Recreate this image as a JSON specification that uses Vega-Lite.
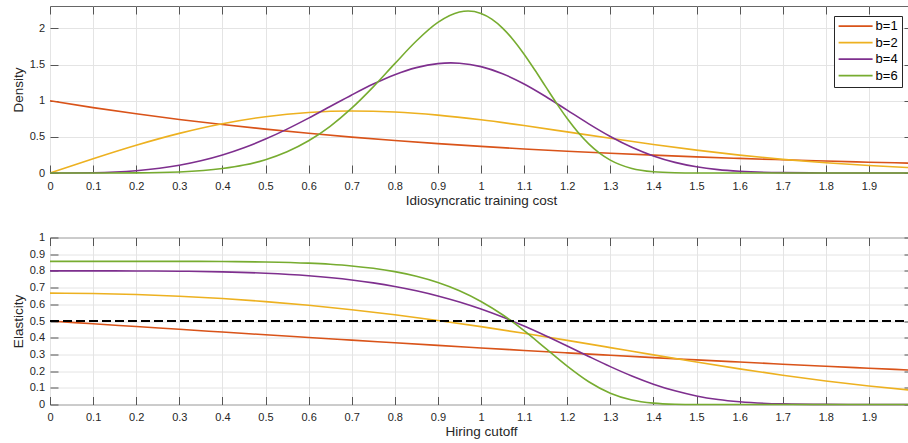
{
  "$schema": "https://vega.github.io/schema/vega-lite/v6.json",
  "padding": {"left": 10, "top": 5, "right": 0, "bottom": 0},
  "bounds": "flush",
  "spacing": 64.5,
  "config": {
    "font": "Liberation Sans",
    "view": {"stroke": "#666666", "strokeWidth": 1},
    "axis": {
      "domain": false,
      "tickSize": -8,
      "tickColor": "#555555",
      "tickWidth": 1,
      "gridColor": "#e4e4e4",
      "gridWidth": 1,
      "labelFont": "Liberation Sans",
      "labelFontSize": 11,
      "labelColor": "#262626",
      "labelPadding": 15,
      "titleFont": "Liberation Sans",
      "titleFontSize": 13.5,
      "titleFontWeight": "normal",
      "titleColor": "#262626",
      "titlePadding": 2
    },
    "axisY": {"labelPadding": 13.5, "titlePadding": 4}
  },
  "datasets": {
    "dens": [
      {"b":"b=1","x":0,"y":1},{"b":"b=1","x":0.1,"y":0.9048},{"b":"b=1","x":0.2,"y":0.8187},{"b":"b=1","x":0.3,"y":0.7408},{"b":"b=1","x":0.4,"y":0.6703},{"b":"b=1","x":0.5,"y":0.6065},{"b":"b=1","x":0.6,"y":0.5488},{"b":"b=1","x":0.7,"y":0.4966},{"b":"b=1","x":0.8,"y":0.4493},{"b":"b=1","x":0.9,"y":0.4066},{"b":"b=1","x":1,"y":0.3679},{"b":"b=1","x":1.1,"y":0.3329},{"b":"b=1","x":1.2,"y":0.3012},{"b":"b=1","x":1.3,"y":0.2725},{"b":"b=1","x":1.4,"y":0.2466},{"b":"b=1","x":1.5,"y":0.2231},{"b":"b=1","x":1.6,"y":0.2019},{"b":"b=1","x":1.7,"y":0.1827},{"b":"b=1","x":1.8,"y":0.1653},{"b":"b=1","x":1.9,"y":0.1496},{"b":"b=1","x":2,"y":0.1353},
      {"b":"b=2","x":0,"y":0},{"b":"b=2","x":0.1,"y":0.198},{"b":"b=2","x":0.2,"y":0.3843},{"b":"b=2","x":0.3,"y":0.5484},{"b":"b=2","x":0.4,"y":0.6817},{"b":"b=2","x":0.5,"y":0.7788},{"b":"b=2","x":0.6,"y":0.8372},{"b":"b=2","x":0.7,"y":0.8577},{"b":"b=2","x":0.8,"y":0.8437},{"b":"b=2","x":0.9,"y":0.8007},{"b":"b=2","x":1,"y":0.7358},{"b":"b=2","x":1.1,"y":0.656},{"b":"b=2","x":1.2,"y":0.5686},{"b":"b=2","x":1.3,"y":0.4798},{"b":"b=2","x":1.4,"y":0.3944},{"b":"b=2","x":1.5,"y":0.3162},{"b":"b=2","x":1.6,"y":0.2474},{"b":"b=2","x":1.7,"y":0.189},{"b":"b=2","x":1.8,"y":0.141},{"b":"b=2","x":1.9,"y":0.1028},{"b":"b=2","x":2,"y":0.0733},
      {"b":"b=4","x":0,"y":0},{"b":"b=4","x":0.1,"y":0.004},{"b":"b=4","x":0.2,"y":0.032},{"b":"b=4","x":0.3,"y":0.1071},{"b":"b=4","x":0.35,"y":0.169},{"b":"b=4","x":0.4,"y":0.2495},{"b":"b=4","x":0.45,"y":0.3499},{"b":"b=4","x":0.5,"y":0.4697},{"b":"b=4","x":0.55,"y":0.6073},{"b":"b=4","x":0.6,"y":0.759},{"b":"b=4","x":0.65,"y":0.9189},{"b":"b=4","x":0.7,"y":1.0791},{"b":"b=4","x":0.75,"y":1.2298},{"b":"b=4","x":0.8,"y":1.3597},{"b":"b=4","x":0.85,"y":1.4575},{"b":"b=4","x":0.9,"y":1.5131},{"b":"b=4","x":0.93,"y":1.5228},{"b":"b=4","x":0.95,"y":1.5188},{"b":"b=4","x":1,"y":1.4715},{"b":"b=4","x":1.05,"y":1.3732},{"b":"b=4","x":1.1,"y":1.2314},{"b":"b=4","x":1.15,"y":1.0582},{"b":"b=4","x":1.2,"y":0.869},{"b":"b=4","x":1.25,"y":0.68},{"b":"b=4","x":1.3,"y":0.5053},{"b":"b=4","x":1.35,"y":0.3553},{"b":"b=4","x":1.4,"y":0.2355},{"b":"b=4","x":1.45,"y":0.1467},{"b":"b=4","x":1.5,"y":0.0855},{"b":"b=4","x":1.55,"y":0.0464},{"b":"b=4","x":1.6,"y":0.0234},{"b":"b=4","x":1.7,"y":0.0046},{"b":"b=4","x":1.8,"y":0.0006},{"b":"b=4","x":1.9,"y":0},{"b":"b=4","x":2,"y":0},
      {"b":"b=6","x":0,"y":0},{"b":"b=6","x":0.1,"y":0.0001},{"b":"b=6","x":0.2,"y":0.0019},{"b":"b=6","x":0.3,"y":0.0146},{"b":"b=6","x":0.4,"y":0.0612},{"b":"b=6","x":0.45,"y":0.1098},{"b":"b=6","x":0.5,"y":0.1846},{"b":"b=6","x":0.55,"y":0.2937},{"b":"b=6","x":0.6,"y":0.4453},{"b":"b=6","x":0.65,"y":0.6456},{"b":"b=6","x":0.7,"y":0.8965},{"b":"b=6","x":0.75,"y":1.1917},{"b":"b=6","x":0.8,"y":1.5127},{"b":"b=6","x":0.85,"y":1.8258},{"b":"b=6","x":0.9,"y":2.0824},{"b":"b=6","x":0.95,"y":2.226},{"b":"b=6","x":0.97,"y":2.2399},{"b":"b=6","x":1,"y":2.2073},{"b":"b=6","x":1.025,"y":2.1287},{"b":"b=6","x":1.05,"y":2.0049},{"b":"b=6","x":1.075,"y":1.8405},{"b":"b=6","x":1.1,"y":1.6433},{"b":"b=6","x":1.125,"y":1.4239},{"b":"b=6","x":1.15,"y":1.1942},{"b":"b=6","x":1.175,"y":0.967},{"b":"b=6","x":1.2,"y":0.7538},{"b":"b=6","x":1.225,"y":0.564},{"b":"b=6","x":1.25,"y":0.4037},{"b":"b=6","x":1.275,"y":0.2754},{"b":"b=6","x":1.3,"y":0.1785},{"b":"b=6","x":1.35,"y":0.0632},{"b":"b=6","x":1.4,"y":0.0173},{"b":"b=6","x":1.45,"y":0.0035},{"b":"b=6","x":1.5,"y":0.0005},{"b":"b=6","x":1.6,"y":0},{"b":"b=6","x":1.8,"y":0},{"b":"b=6","x":2,"y":0}
    ],
    "elas": [
      {"b":"b=1","x":0,"y":0.5},{"b":"b=1","x":0.1,"y":0.4833},{"b":"b=1","x":0.2,"y":0.4667},{"b":"b=1","x":0.3,"y":0.4502},{"b":"b=1","x":0.4,"y":0.4337},{"b":"b=1","x":0.5,"y":0.4174},{"b":"b=1","x":0.6,"y":0.4012},{"b":"b=1","x":0.7,"y":0.3852},{"b":"b=1","x":0.8,"y":0.3695},{"b":"b=1","x":0.9,"y":0.3539},{"b":"b=1","x":1,"y":0.3387},{"b":"b=1","x":1.1,"y":0.3238},{"b":"b=1","x":1.2,"y":0.3091},{"b":"b=1","x":1.3,"y":0.2948},{"b":"b=1","x":1.4,"y":0.2809},{"b":"b=1","x":1.5,"y":0.2674},{"b":"b=1","x":1.6,"y":0.2542},{"b":"b=1","x":1.7,"y":0.2414},{"b":"b=1","x":1.8,"y":0.229},{"b":"b=1","x":1.9,"y":0.2171},{"b":"b=1","x":2,"y":0.2055},
      {"b":"b=2","x":0,"y":0.6667},{"b":"b=2","x":0.1,"y":0.6647},{"b":"b=2","x":0.2,"y":0.6587},{"b":"b=2","x":0.3,"y":0.6486},{"b":"b=2","x":0.4,"y":0.6345},{"b":"b=2","x":0.5,"y":0.6163},{"b":"b=2","x":0.6,"y":0.594},{"b":"b=2","x":0.7,"y":0.5676},{"b":"b=2","x":0.8,"y":0.5374},{"b":"b=2","x":0.9,"y":0.5034},{"b":"b=2","x":1,"y":0.4662},{"b":"b=2","x":1.1,"y":0.4262},{"b":"b=2","x":1.2,"y":0.384},{"b":"b=2","x":1.3,"y":0.3407},{"b":"b=2","x":1.4,"y":0.2971},{"b":"b=2","x":1.5,"y":0.2544},{"b":"b=2","x":1.6,"y":0.2135},{"b":"b=2","x":1.7,"y":0.1754},{"b":"b=2","x":1.8,"y":0.141},{"b":"b=2","x":1.9,"y":0.1108},{"b":"b=2","x":2,"y":0.085},
      {"b":"b=4","x":0,"y":0.8},{"b":"b=4","x":0.1,"y":0.8},{"b":"b=4","x":0.2,"y":0.7996},{"b":"b=4","x":0.3,"y":0.7982},{"b":"b=4","x":0.4,"y":0.7943},{"b":"b=4","x":0.5,"y":0.786},{"b":"b=4","x":0.6,"y":0.771},{"b":"b=4","x":0.7,"y":0.7459},{"b":"b=4","x":0.75,"y":0.7284},{"b":"b=4","x":0.8,"y":0.707},{"b":"b=4","x":0.85,"y":0.6811},{"b":"b=4","x":0.9,"y":0.6501},{"b":"b=4","x":0.95,"y":0.6137},{"b":"b=4","x":1,"y":0.5714},{"b":"b=4","x":1.05,"y":0.5233},{"b":"b=4","x":1.1,"y":0.4697},{"b":"b=4","x":1.15,"y":0.4114},{"b":"b=4","x":1.2,"y":0.35},{"b":"b=4","x":1.25,"y":0.2876},{"b":"b=4","x":1.3,"y":0.2269},{"b":"b=4","x":1.35,"y":0.1708},{"b":"b=4","x":1.4,"y":0.1218},{"b":"b=4","x":1.45,"y":0.0818},{"b":"b=4","x":1.5,"y":0.0514},{"b":"b=4","x":1.55,"y":0.03},{"b":"b=4","x":1.6,"y":0.0162},{"b":"b=4","x":1.7,"y":0.0037},{"b":"b=4","x":1.8,"y":0.0006},{"b":"b=4","x":1.9,"y":0.0001},{"b":"b=4","x":2,"y":0},
      {"b":"b=6","x":0,"y":0.8571},{"b":"b=6","x":0.1,"y":0.8571},{"b":"b=6","x":0.2,"y":0.8571},{"b":"b=6","x":0.3,"y":0.857},{"b":"b=6","x":0.4,"y":0.8562},{"b":"b=6","x":0.5,"y":0.8535},{"b":"b=6","x":0.6,"y":0.8463},{"b":"b=6","x":0.65,"y":0.8396},{"b":"b=6","x":0.7,"y":0.8298},{"b":"b=6","x":0.75,"y":0.8155},{"b":"b=6","x":0.8,"y":0.7955},{"b":"b=6","x":0.85,"y":0.7679},{"b":"b=6","x":0.9,"y":0.7306},{"b":"b=6","x":0.95,"y":0.6812},{"b":"b=6","x":1,"y":0.6172},{"b":"b=6","x":1.05,"y":0.5373},{"b":"b=6","x":1.1,"y":0.4421},{"b":"b=6","x":1.15,"y":0.3364},{"b":"b=6","x":1.2,"y":0.23},{"b":"b=6","x":1.25,"y":0.1365},{"b":"b=6","x":1.3,"y":0.0676},{"b":"b=6","x":1.35,"y":0.0268},{"b":"b=6","x":1.4,"y":0.0082},{"b":"b=6","x":1.45,"y":0.0018},{"b":"b=6","x":1.5,"y":0.0003},{"b":"b=6","x":1.6,"y":0},{"b":"b=6","x":1.8,"y":0},{"b":"b=6","x":2,"y":0}
    ],
    "half": [{"x":0,"y":0.5},{"x":2,"y":0.5}]
  },
  "vconcat": [
    {
      "width": 862,
      "height": 167,
      "data": {"name": "dens"},
      "layer": [
        {
          "mark": {"type": "line", "interpolate": "monotone", "strokeWidth": 1.6},
          "encoding": {
            "x": {"field": "x", "type": "quantitative", "scale": {"domain": [0, 2], "nice": false},
                  "axis": {"orient": "bottom", "values": [0,0.1,0.2,0.3,0.4,0.5,0.6,0.7,0.8,0.9,1,1.1,1.2,1.3,1.4,1.5,1.6,1.7,1.8,1.9,2], "format": "~g", "labelFlush": false, "title": "Idiosyncratic training cost"}},
            "y": {"field": "y", "type": "quantitative", "scale": {"domain": [0, 2.31], "nice": false},
                  "axis": {"orient": "left", "values": [0,0.5,1,1.5,2], "format": "~g", "title": "Density"}},
            "color": {"field": "b", "type": "nominal",
                      "scale": {"domain": ["b=1","b=2","b=4","b=6"], "range": ["#D95319","#EDB120","#7E2F8E","#77AC30"]},
                      "legend": {"orient": "top-right", "offset": 9.6, "title": null, "symbolType": "stroke", "symbolSize": 1156, "clipHeight": 13, "symbolStrokeWidth": 1.6, "labelFont": "Liberation Sans", "labelFontSize": 13, "labelColor": "#000000", "labelOffset": 2, "labelExpr": "datum.label + ' '", "strokeColor": "#262626", "fillColor": "#ffffff", "padding": 3.6, "rowPadding": 2.5}}
          }
        },
        {
          "mark": {"type": "line", "strokeOpacity": 0},
          "encoding": {
            "x": {"field": "x", "type": "quantitative", "axis": {"orient": "top", "labels": false, "title": null, "grid": false, "values": [0,0.1,0.2,0.3,0.4,0.5,0.6,0.7,0.8,0.9,1,1.1,1.2,1.3,1.4,1.5,1.6,1.7,1.8,1.9,2]}},
            "y": {"field": "y", "type": "quantitative", "axis": {"orient": "right", "labels": false, "title": null, "grid": false, "values": [0,0.5,1,1.5,2]}},
            "detail": {"field": "b"}
          }
        }
      ],
      "resolve": {"axis": {"x": "independent", "y": "independent"}}
    },
    {
      "width": 862,
      "height": 167,
      "layer": [
        {
          "data": {"name": "elas"},
          "mark": {"type": "line", "interpolate": "monotone", "strokeWidth": 1.6},
          "encoding": {
            "x": {"field": "x", "type": "quantitative", "scale": {"domain": [0, 2], "nice": false},
                  "axis": {"orient": "bottom", "values": [0,0.1,0.2,0.3,0.4,0.5,0.6,0.7,0.8,0.9,1,1.1,1.2,1.3,1.4,1.5,1.6,1.7,1.8,1.9,2], "format": "~g", "labelFlush": false, "title": "Hiring cutoff"}},
            "y": {"field": "y", "type": "quantitative", "scale": {"domain": [0, 1], "nice": false},
                  "axis": {"orient": "left", "values": [0,0.1,0.2,0.3,0.4,0.5,0.6,0.7,0.8,0.9,1], "format": "~g", "title": "Elasticity"}},
            "color": {"field": "b", "type": "nominal",
                      "scale": {"domain": ["b=1","b=2","b=4","b=6"], "range": ["#D95319","#EDB120","#7E2F8E","#77AC30"]},
                      "legend": null}
          }
        },
        {
          "data": {"name": "half"},
          "mark": {"type": "line", "color": "#000000", "strokeWidth": 2.2, "strokeDash": [9, 4]},
          "encoding": {
            "x": {"field": "x", "type": "quantitative", "axis": null},
            "y": {"field": "y", "type": "quantitative", "axis": null}
          }
        },
        {
          "data": {"name": "half"},
          "mark": {"type": "line", "strokeOpacity": 0},
          "encoding": {
            "x": {"field": "x", "type": "quantitative", "axis": {"orient": "top", "labels": false, "title": null, "grid": false, "values": [0,0.1,0.2,0.3,0.4,0.5,0.6,0.7,0.8,0.9,1,1.1,1.2,1.3,1.4,1.5,1.6,1.7,1.8,1.9,2]}},
            "y": {"field": "y", "type": "quantitative", "axis": {"orient": "right", "labels": false, "title": null, "grid": false, "values": [0,0.1,0.2,0.3,0.4,0.5,0.6,0.7,0.8,0.9,1]}}
          }
        }
      ],
      "resolve": {"axis": {"x": "independent", "y": "independent"}}
    }
  ],
  "resolve": {"scale": {"color": "independent"}, "legend": {"color": "independent"}}
}
